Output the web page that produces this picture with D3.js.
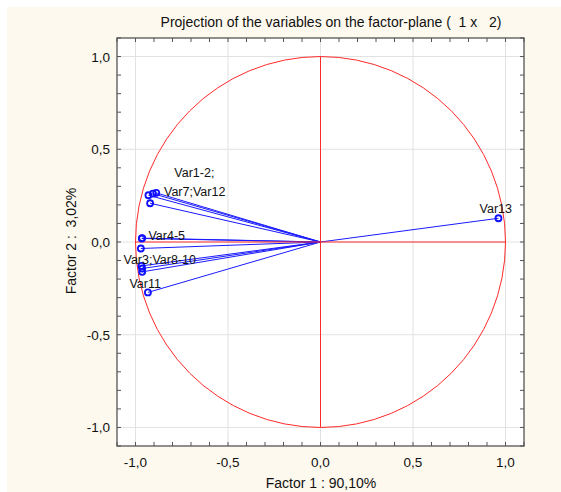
<!DOCTYPE html>
<html><head><meta charset="utf-8">
<script src="https://cdn.jsdelivr.net/npm/d3@7"></script>
<style>
html,body{margin:0;padding:0;background:#fff;}
text{font-family:"Liberation Sans",Arial,sans-serif;fill:#111;}
</style></head>
<body><svg id="c" width="561" height="492"></svg>
<script>
const varNames = ["Var1","Var2","Var7","Var12","Var4","Var5","Var3","Var8","Var9","Var10","Var11","Var13"];
const factor1 = [-0.930,-0.906,-0.888,-0.921,-0.966,-0.964,-0.971,-0.968,-0.964,-0.964,-0.933,0.962];
const factor2 = [0.252,0.261,0.265,0.209,0.019,0.021,-0.035,-0.129,-0.143,-0.161,-0.272,0.128];
const labelTexts = ["Var1-2;","Var7;Var12","Var4-5","Var3;Var8-10","Var11","Var13"];
const labelX = [-0.790,-0.846,-0.930,-1.065,-1.033,0.860];
const labelY = [0.350,0.250,0.010,-0.120,-0.250,0.155];
const tickValues = [-1.0,-0.5,0.0,0.5,1.0];
const tickLabels = ["-1,0","-0,5","0,0","0,5","1,0"];
const titleText = "Projection of the variables on the factor-plane (  1 x   2)";
const xTitle = "Factor 1 : 90,10%";
const yTitle = "Factor 2 :  3,02%";

const svg = d3.select("#c");
svg.append("rect").attr("x",7).attr("y",7).attr("width",554).attr("height",485).attr("fill","#fef9ee");

const L=117,R=524,T=38,B=446;
const x = d3.scaleLinear().domain([-1.1,1.1]).range([L,R]);
const y = d3.scaleLinear().domain([-1.1,1.1]).range([B,T]);

svg.append("rect").attr("x",L).attr("y",T).attr("width",R-L).attr("height",B-T).attr("fill","#fff");

// gridlines
const g = svg.append("g");
tickValues.forEach(v=>{
  g.append("line").attr("x1",x(v)).attr("x2",x(v)).attr("y1",T).attr("y2",B).attr("stroke","#e2e2e2").attr("stroke-width",1);
  g.append("line").attr("y1",y(v)).attr("y2",y(v)).attr("x1",L).attr("x2",R).attr("stroke","#e2e2e2").attr("stroke-width",1);
});

// vectors
const pts = varNames.map((n,i)=>({n,x:factor1[i],y:factor2[i]}));
svg.append("g").selectAll("line").data(pts).join("line")
  .attr("x1",x(0)).attr("y1",y(0)).attr("x2",d=>x(d.x)).attr("y2",d=>y(d.y))
  .attr("stroke","#1a1aff").attr("stroke-width",1);

// red unit circle and axes
svg.append("ellipse").attr("cx",x(0)).attr("cy",y(0)).attr("rx",x(1)-x(0)).attr("ry",y(-1)-y(0))
  .attr("fill","none").attr("stroke","#ff2a2a").attr("stroke-width",1);
svg.append("line").attr("x1",x(-1)).attr("x2",x(1)).attr("y1",y(0)).attr("y2",y(0)).attr("stroke","#ff2a2a").attr("stroke-width",1);
svg.append("line").attr("x1",x(0)).attr("x2",x(0)).attr("y1",y(1)).attr("y2",y(-1)).attr("stroke","#ff2a2a").attr("stroke-width",1);

// markers
svg.append("g").selectAll("circle").data(pts).join("circle")
  .attr("cx",d=>x(d.x)).attr("cy",d=>y(d.y)).attr("r",3)
  .attr("fill","none").attr("stroke","#1010ff").attr("stroke-width",1.8);

// labels
svg.append("g").selectAll("text").data(labelTexts).join("text")
  .attr("x",(d,i)=>x(labelX[i])).attr("y",(d,i)=>y(labelY[i]))
  .attr("font-size",12.5).text(d=>d);

// frame
svg.append("rect").attr("x",L).attr("y",T).attr("width",R-L).attr("height",B-T)
  .attr("fill","none").attr("stroke","#555").attr("stroke-width",1.3);

// ticks (inward, every 0.1)
const minor = d3.range(-11,12).map(i=>i/10);
const tk = svg.append("g").attr("stroke","#555").attr("stroke-width",1);
minor.forEach(v=>{
  tk.append("line").attr("x1",x(v)).attr("x2",x(v)).attr("y1",B).attr("y2",B-4);
  tk.append("line").attr("x1",x(v)).attr("x2",x(v)).attr("y1",T).attr("y2",T+4);
  tk.append("line").attr("y1",y(v)).attr("y2",y(v)).attr("x1",L).attr("x2",L+4);
  tk.append("line").attr("y1",y(v)).attr("y2",y(v)).attr("x1",R).attr("x2",R-4);
});

// tick labels
svg.append("g").selectAll("text").data(tickValues).join("text")
  .attr("x",d=>x(d)).attr("y",467).attr("text-anchor","middle").attr("font-size",13.5)
  .text((d,i)=>tickLabels[i]);
svg.append("g").selectAll("text").data(tickValues).join("text")
  .attr("x",110).attr("y",d=>y(d)+5).attr("text-anchor","end").attr("font-size",13.5)
  .text((d,i)=>tickLabels[i]);

// titles
svg.append("text").attr("x",331).attr("y",27).attr("text-anchor","middle").attr("font-size",14)
  .style("white-space","pre").text(titleText);
svg.append("text").attr("x",321).attr("y",487.5).attr("text-anchor","middle").attr("font-size",14)
  .text(xTitle);
svg.append("text").attr("transform","translate(76,241) rotate(-90)").attr("text-anchor","middle").attr("font-size",14)
  .style("white-space","pre").text(yTitle);
</script></body></html>
